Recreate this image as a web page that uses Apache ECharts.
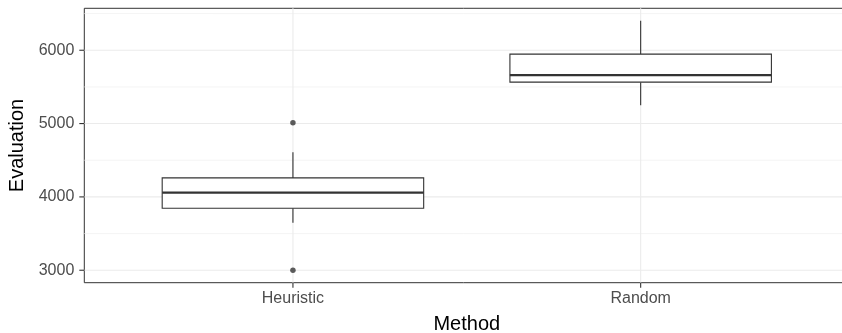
<!DOCTYPE html>
<html>
<head>
<meta charset="utf-8">
<script src="https://cdn.jsdelivr.net/npm/echarts@6/dist/echarts.min.js"></script>
<style>
  html, body { margin: 0; padding: 0; background: #ffffff; }
  #chart { width: 842px; height: 333px; }
</style>
</head>
<body>
<div id="chart"></div>
<script>
// Box statistics per method
const categories = ['Heuristic', 'Random'];
const whiskerLow = [3649, 5251];
const boxLow = [3846, 5565];
const medians = [4059, 5660];
const boxHigh = [4259, 5947];
const whiskerHigh = [4610, 6402];
// Points outside the whiskers: [category index, value]
const outlierPoints = [[0, 3000], [0, 5012]];
// Axis ticks and grid
const yTickValues = [3000, 4000, 5000, 6000];
const yMinorValues = [3500, 4500, 5500, 6500];
const xTickValues = [0, 1];

const FONT = '"Liberation Sans", Arial, Helvetica, sans-serif';
const INK = '#333333';
const GRID = '#ebebeb';
const BOX_HALF = 0.376;
const TICK_LEN = 5;

const chart = echarts.init(document.getElementById('chart'), null, { renderer: 'canvas' });

const boxData = categories.map((c, i) => [i, whiskerLow[i], boxLow[i], medians[i], boxHigh[i], whiskerHigh[i]]);
// grid lines and tick marks: [kind, value]
const gridData = []
  .concat(yMinorValues.map(v => ['hMinor', v]))
  .concat(yTickValues.map(v => ['hMajor', v]))
  .concat(xTickValues.map(v => ['v', v]))
  .concat(yTickValues.map(v => ['yTick', v]))
  .concat(xTickValues.map(v => ['xTick', v]));

const option = {
  backgroundColor: '#ffffff',
  animation: false,
  grid: {
    left: 84.3,
    top: 8.3,
    width: 765,
    height: 274.4,
    outerBoundsMode: 'none',
    containLabel: false,
    show: true,
    borderColor: INK,
    borderWidth: 1,
    backgroundColor: 'transparent'
  },
  xAxis: {
    type: 'value',
    min: -0.6,
    max: 1.6,
    name: 'Method',
    nameLocation: 'middle',
    nameGap: 32,
    nameTextStyle: { fontFamily: FONT, fontSize: 20, color: '#000000' },
    axisLine: { show: false, onZero: false },
    axisTick: { show: false },
    axisLabel: {
      show: true, margin: 8, fontFamily: FONT, fontSize: 16, color: '#4d4d4d',
      customValues: xTickValues,
      formatter: v => categories[Math.round(v)] || ''
    },
    splitLine: { show: false }
  },
  yAxis: {
    type: 'value',
    min: 2830,
    max: 6572,
    name: 'Evaluation',
    nameLocation: 'middle',
    nameRotate: 90,
    nameGap: 53,
    nameTextStyle: { fontFamily: FONT, fontSize: 20, color: '#000000' },
    axisLine: { show: false, onZero: false },
    axisTick: { show: false },
    axisLabel: {
      show: true, margin: 10, fontFamily: FONT, fontSize: 16, color: '#4d4d4d',
      customValues: yTickValues,
      formatter: v => String(v)
    },
    splitLine: { show: false }
  },
  series: [
    {
      // panel grid lines and axis tick marks
      type: 'custom',
      z: 0,
      silent: true,
      clip: false,
      data: gridData,
      encode: { x: 1, y: 1 },
      renderItem: (params, api) => {
        const kind = api.value(0);
        const v = api.value(1);
        const cs = params.coordSys;
        const bottom = cs.y + cs.height;
        if (kind === 'v') {
          const p = api.coord([v, 2830]);
          return { type: 'line', shape: { x1: p[0], y1: cs.y, x2: p[0], y2: bottom },
            style: { stroke: GRID, lineWidth: 1.1 } };
        }
        if (kind === 'xTick') {
          const p = api.coord([v, 2830]);
          return { type: 'line', z2: 50, shape: { x1: p[0], y1: bottom, x2: p[0], y2: bottom + TICK_LEN },
            style: { stroke: INK, lineWidth: 1.1 } };
        }
        const p = api.coord([0, v]);
        if (kind === 'yTick') {
          return { type: 'line', z2: 50, shape: { x1: cs.x - TICK_LEN, y1: p[1], x2: cs.x, y2: p[1] },
            style: { stroke: INK, lineWidth: 1.1 } };
        }
        return { type: 'line', shape: { x1: cs.x, y1: p[1], x2: cs.x + cs.width, y2: p[1] },
          style: { stroke: kind === 'hMajor' ? GRID : '#f1f1f1', lineWidth: kind === 'hMajor' ? 1.1 : 0.8 } };
      }
    },
    {
      // boxes with whiskers
      type: 'custom',
      z: 2,
      data: boxData,
      encode: { x: 0, y: [1, 2, 3, 4, 5] },
      renderItem: (params, api) => {
        const x = api.value(0);
        const lo = api.coord([x, api.value(1)]);
        const q1 = api.coord([x, api.value(2)]);
        const md = api.coord([x, api.value(3)]);
        const q3 = api.coord([x, api.value(4)]);
        const hi = api.coord([x, api.value(5)]);
        const left = api.coord([x - BOX_HALF, api.value(3)])[0];
        const right = api.coord([x + BOX_HALF, api.value(3)])[0];
        const lineStyle = { stroke: INK, lineWidth: 1.1 };
        return {
          type: 'group',
          children: [
            { type: 'line', shape: { x1: hi[0], y1: hi[1], x2: q3[0], y2: q3[1] }, style: lineStyle },
            { type: 'line', shape: { x1: q1[0], y1: q1[1], x2: lo[0], y2: lo[1] }, style: lineStyle },
            { type: 'rect', shape: { x: left, y: q3[1], width: right - left, height: q1[1] - q3[1] },
              style: { fill: '#ffffff', stroke: INK, lineWidth: 1.1 } },
            { type: 'line', shape: { x1: left, y1: md[1], x2: right, y2: md[1] },
              style: { stroke: INK, lineWidth: 2.2 } }
          ]
        };
      }
    },
    {
      type: 'scatter',
      z: 3,
      data: outlierPoints,
      symbol: 'circle',
      symbolSize: 5.5,
      itemStyle: { color: INK }
    }
  ]
};

chart.setOption(option);
</script>
</body>
</html>
